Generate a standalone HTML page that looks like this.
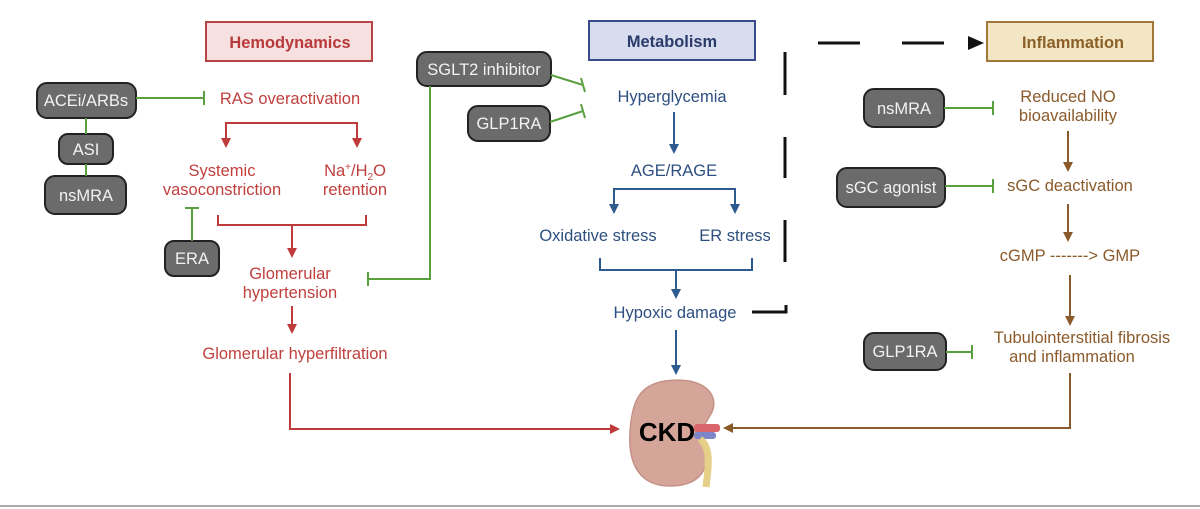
<!DOCTYPE html>
<html><head><meta charset="utf-8"><style>
html,body{margin:0;padding:0;background:#fff;}
svg{display:block;font-family:"Liberation Sans",Arial,sans-serif;}
</style></head><body>
<svg width="1200" height="509" viewBox="0 0 1200 509" xmlns="http://www.w3.org/2000/svg">
<defs>
<marker id="ar" markerWidth="10" markerHeight="10" refX="8" refY="5" orient="auto" markerUnits="userSpaceOnUse"><path d="M0,0 L10,5 L0,10 z" fill="#bf3b3b"/></marker>
<marker id="ab" markerWidth="10" markerHeight="10" refX="8" refY="5" orient="auto" markerUnits="userSpaceOnUse"><path d="M0,0 L10,5 L0,10 z" fill="#2d5a8f"/></marker>
<marker id="an" markerWidth="10" markerHeight="10" refX="8" refY="5" orient="auto" markerUnits="userSpaceOnUse"><path d="M0,0 L10,5 L0,10 z" fill="#8a5a2a"/></marker>
</defs>
<rect width="1200" height="509" fill="#fff"/>
<line x1="0" y1="506" x2="1200" y2="506" stroke="#aaa" stroke-width="2"/>

<rect x="206" y="22" width="166" height="39" fill="#f6e0e0" stroke="#b84545" stroke-width="2"/>
<text x="290" y="48" text-anchor="middle" font-size="16.4" font-weight="bold" fill="#b8393a">Hemodynamics</text>
<rect x="589" y="21" width="166" height="39" fill="#d7ddef" stroke="#3a4a8a" stroke-width="2"/>
<text x="672" y="47" text-anchor="middle" font-size="16.4" font-weight="bold" fill="#2a3a6a">Metabolism</text>
<rect x="987" y="22" width="166" height="39" fill="#f3e6c4" stroke="#a0793a" stroke-width="2"/>
<text x="1073" y="48" text-anchor="middle" font-size="16.4" font-weight="bold" fill="#8a5f28">Inflammation</text>

<g fill="#6b6b6b" stroke="#222" stroke-width="2">
<rect x="37" y="83" width="99" height="35" rx="10"/>
<rect x="59" y="134" width="54" height="30" rx="9"/>
<rect x="45" y="176" width="81" height="38" rx="10"/>
<rect x="165" y="241" width="54" height="35" rx="9"/>
<rect x="417" y="52" width="134" height="34" rx="10"/>
<rect x="468" y="106" width="82" height="35" rx="10"/>
<rect x="864" y="89" width="80" height="38" rx="10"/>
<rect x="837" y="168" width="108" height="39" rx="10"/>
<rect x="864" y="333" width="82" height="37" rx="10"/>
</g>
<g fill="#f2f2f2" font-size="16.5" text-anchor="middle">
<text x="86" y="106">ACEi/ARBs</text>
<text x="86" y="155">ASI</text>
<text x="86" y="201">nsMRA</text>
<text x="192" y="264">ERA</text>
<text x="484" y="75">SGLT2 inhibitor</text>
<text x="509" y="129">GLP1RA</text>
<text x="904" y="114">nsMRA</text>
<text x="891" y="193">sGC agonist</text>
<text x="905" y="357">GLP1RA</text>
</g>

<g stroke="#5aa040" stroke-width="2" fill="none">
<line x1="86" y1="118" x2="86" y2="134"/>
<line x1="86" y1="164" x2="86" y2="176"/>
<line x1="136" y1="98" x2="204" y2="98"/><line x1="204" y1="91" x2="204" y2="105"/>
<line x1="192" y1="241" x2="192" y2="208"/><line x1="185" y1="208" x2="199" y2="208"/>
<polyline points="430,86 430,279 368,279"/><line x1="368" y1="272" x2="368" y2="286"/>
<line x1="551" y1="75" x2="583" y2="85"/><line x1="581" y1="78" x2="585" y2="92"/>
<line x1="550" y1="122" x2="583" y2="111"/><line x1="581" y1="104" x2="585" y2="118"/>
<line x1="944" y1="108" x2="993" y2="108"/><line x1="993" y1="101" x2="993" y2="115"/>
<line x1="945" y1="186" x2="993" y2="186"/><line x1="993" y1="179" x2="993" y2="193"/>
<line x1="946" y1="352" x2="972" y2="352"/><line x1="972" y1="345" x2="972" y2="359"/>
</g>

<g fill="#c0403d" font-size="16.5" text-anchor="middle">
<text x="290" y="104">RAS overactivation</text>
<text x="222" y="176">Systemic</text>
<text x="222" y="195">vasoconstriction</text>
<text x="355" y="176">Na<tspan font-size="10" dy="-6">+</tspan><tspan dy="6">/H</tspan><tspan font-size="10" dy="4">2</tspan><tspan dy="-4">O</tspan></text>
<text x="355" y="195">retention</text>
<text x="290" y="279">Glomerular</text>
<text x="290" y="298">hypertension</text>
<text x="295" y="359">Glomerular hyperfiltration</text>
</g>
<g stroke="#bf3b3b" stroke-width="2" fill="none">
<polyline points="226,140 226,123 357,123 357,140"/>
<line x1="226" y1="136" x2="226" y2="146" marker-end="url(#ar)"/>
<line x1="357" y1="136" x2="357" y2="146" marker-end="url(#ar)"/>
<polyline points="218,215 218,225 366,225 366,215"/>
<line x1="292" y1="225" x2="292" y2="256" marker-end="url(#ar)"/>
<line x1="292" y1="306" x2="292" y2="332" marker-end="url(#ar)"/>
<polyline points="290,373 290,429 618,429" marker-end="url(#ar)"/>
</g>

<g fill="#2d4f80" font-size="16.5" text-anchor="middle">
<text x="672" y="102">Hyperglycemia</text>
<text x="674" y="176">AGE/RAGE</text>
<text x="598" y="241">Oxidative stress</text>
<text x="735" y="241">ER stress</text>
<text x="675" y="318">Hypoxic damage</text>
</g>
<g stroke="#2d5a8f" stroke-width="2" fill="none">
<line x1="674" y1="112" x2="674" y2="152" marker-end="url(#ab)"/>
<polyline points="614,206 614,189 735,189 735,206"/>
<line x1="614" y1="200" x2="614" y2="212" marker-end="url(#ab)"/>
<line x1="735" y1="200" x2="735" y2="212" marker-end="url(#ab)"/>
<polyline points="600,258 600,270 752,270 752,258"/>
<line x1="676" y1="270" x2="676" y2="297" marker-end="url(#ab)"/>
<line x1="676" y1="330" x2="676" y2="373" marker-end="url(#ab)"/>
</g>

<g stroke="#111" stroke-width="3" fill="none">
<line x1="785" y1="52" x2="785" y2="95"/>
<line x1="785" y1="137" x2="785" y2="178"/>
<line x1="785" y1="220" x2="785" y2="262"/>
<polyline points="752,312 786,312 786,305"/>
<line x1="818" y1="43" x2="860" y2="43"/>
<line x1="902" y1="43" x2="944" y2="43"/>
</g>
<path d="M968,36 L984,43 L968,50 z" fill="#111"/>

<g fill="#8a5a2a" font-size="16.5" text-anchor="middle">
<text x="1068" y="102">Reduced NO</text>
<text x="1068" y="121">bioavailability</text>
<text x="1070" y="191">sGC deactivation</text>
<text x="1070" y="261">cGMP -------&gt; GMP</text>
<text x="1082" y="343">Tubulointerstitial fibrosis</text>
<text x="1072" y="362">and inflammation</text>
</g>
<g stroke="#8a5a2a" stroke-width="2" fill="none">
<line x1="1068" y1="131" x2="1068" y2="170" marker-end="url(#an)"/>
<line x1="1068" y1="204" x2="1068" y2="240" marker-end="url(#an)"/>
<line x1="1070" y1="275" x2="1070" y2="324" marker-end="url(#an)"/>
<polyline points="1070,373 1070,428 725,428" marker-end="url(#an)"/>
</g>

<path d="M665,381 C700,376 720,392 712,412 C705,425 700,428 704,440 C712,462 705,485 672,486 C640,487 628,465 630,432 C632,400 640,385 665,381 z" fill="#d6a59a" stroke="#c49286" stroke-width="1.5"/>
<rect x="694" y="424" width="26" height="8" rx="3" fill="#d9666b"/>
<rect x="694" y="432" width="22" height="7" rx="3" fill="#7c86c8"/>
<path d="M700,439 C712,448 708,470 706,487" stroke="#e6cf86" stroke-width="7" fill="none"/>
<text x="667" y="441" text-anchor="middle" font-size="26" font-weight="bold" fill="#000">CKD</text>
</svg>
</body></html>
